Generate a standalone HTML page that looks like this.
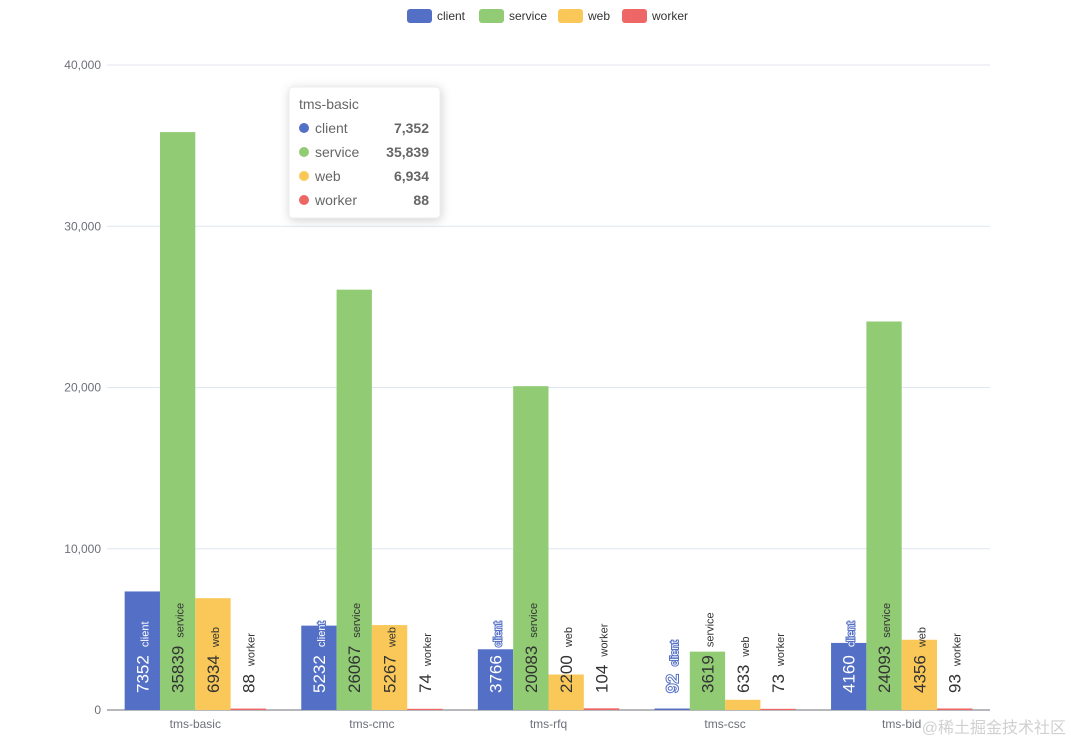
<!DOCTYPE html>
<html><head><meta charset="utf-8"><style>
body{margin:0;background:#fff;font-family:"Liberation Sans","Noto Sans CJK SC",sans-serif}
svg{display:block}
</style></head><body>
<svg id="c" width="1071" height="743"></svg>
<script>
const categories=["tms-basic","tms-cmc","tms-rfq","tms-csc","tms-bid"];
const seriesNames=["client","service","web","worker"];
const clientVals=[7352,5232,3766,92,4160];
const serviceVals=[35839,26067,20083,3619,24093];
const webVals=[6934,5267,2200,633,4356];
const workerVals=[88,74,104,73,93];
const yTicks=[0,10000,20000,30000,40000];
const values=[clientVals,serviceVals,webVals,workerVals];
const colors=["#5470c6","#91cc75","#fac858","#ee6666"];
const NS="http://www.w3.org/2000/svg";
const svg=document.getElementById('c');
const L=107,R=990,T=65,B=710,YMAX=40000;
const y=v=>B-(v/YMAX)*(B-T);
const bw=(R-L)/categories.length;
const barW=bw*0.8/4;
const x=(ci,si)=>L+ci*bw+bw*0.1+si*barW;
function mk(tag,a,parent){const e=document.createElementNS(NS,tag);for(const k in a)e.setAttribute(k,a[k]);(parent||svg).appendChild(e);return e;}
yTicks.forEach(t=>{
 const g=mk('line',{x1:L,x2:R,y1:y(t),y2:y(t),stroke:t===0?'#6e7079':'#e0e6f1','stroke-width':1});
 
 
 const tx=mk('text',{x:L-6,y:y(t)+4,'text-anchor':'end','font-size':12,fill:'#6e7079'});
 tx.textContent=t.toLocaleString('en-US');
 
 
});
categories.forEach((c,ci)=>{
 const tx=mk('text',{x:L+ci*bw+bw/2,y:B+18,'text-anchor':'middle','font-size':12,fill:'#6e7079'});
 tx.textContent=c;
 
 
 values.forEach((arr,si)=>{
  const v=arr[ci];
  const r=mk('rect',{x:x(ci,si),y:y(v),width:barW,height:B-y(v),fill:colors[si]});
  
  
  const cx=x(ci,si)+barW/2+6, cy=B-17;
  const isClient=si===0;
  const t=mk('text',{transform:`translate(${cx},${cy}) rotate(-90)`,fill:isClient?'#fff':'#333',stroke:isClient?'#5470c6':'none','stroke-width':isClient?2:0,'paint-order':'stroke'});
  const t1=mk('tspan',{'font-size':17},t);t1.textContent=v;
  const t2=mk('tspan',{'font-size':11,dx:8},t);t2.textContent=seriesNames[si];
  
  
 });
});
// legend
const lx=[407,479,558,622];
seriesNames.forEach((n,i)=>{
 const g=mk('g',{});
 
 
 mk('rect',{x:lx[i],y:9,width:25,height:14,rx:3,fill:colors[i]},g);
 const t=mk('text',{x:lx[i]+30,y:20,'font-size':12,fill:'#333'},g);t.textContent=n;
});
// tooltip
const tg=mk('g',{});


mk('rect',{x:289,y:87,width:151,height:131,rx:4,fill:'#fff',stroke:'#eee',style:'filter:drop-shadow(1px 2px 5px rgba(0,0,0,0.18))'},tg);
const tt=mk('text',{x:299,y:109,'font-size':14,fill:'#666'},tg);tt.textContent=categories[0];
seriesNames.forEach((n,i)=>{
 const yy=133+i*24;
 mk('circle',{cx:304,cy:yy-5,r:5,fill:colors[i]},tg);
 const a=mk('text',{x:315,y:yy,'font-size':14,fill:'#666'},tg);a.textContent=n;
 const b=mk('text',{x:429,y:yy,'font-size':14,'font-weight':'bold',fill:'#666','text-anchor':'end'},tg);b.textContent=values[i][0].toLocaleString('en-US');
});
const wm=mk('text',{x:1066,y:733,'font-size':16,fill:'#d0d0d0','text-anchor':'end'});
wm.textContent='@稀土掘金技术社区';


</script>
</body></html>
